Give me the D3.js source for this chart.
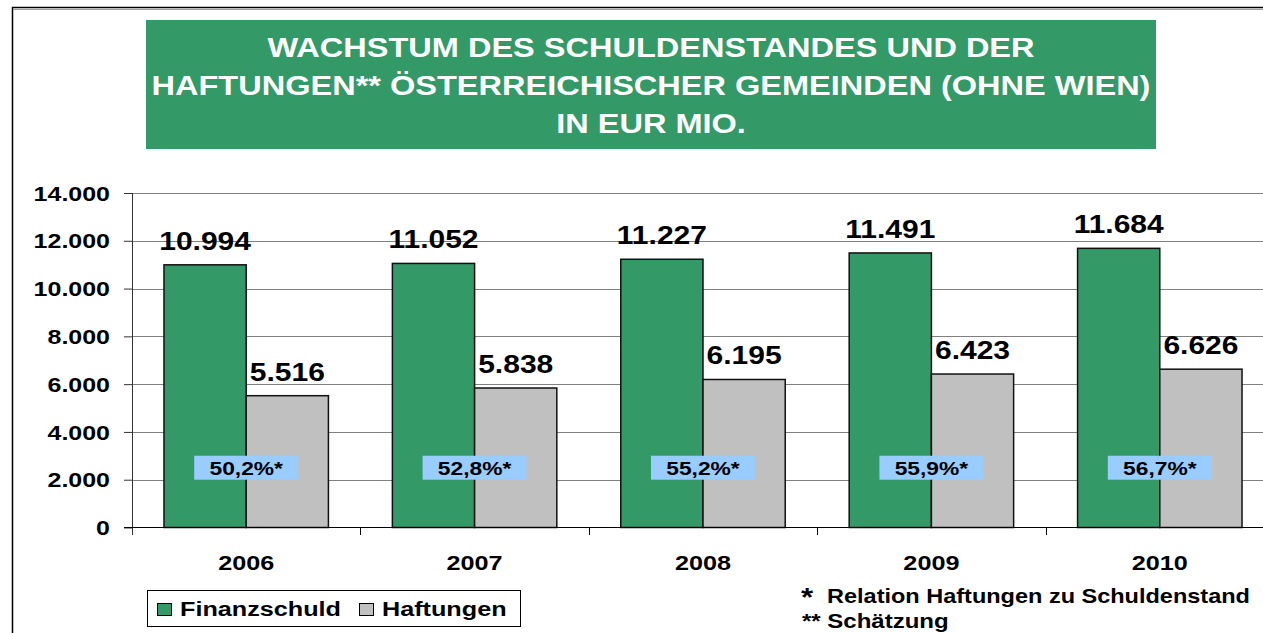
<!DOCTYPE html>
<html lang="de">
<head>
<meta charset="UTF-8">
<title>Wachstum des Schuldenstandes</title>
<script src="https://d3js.org/d3.v7.min.js"></script>
<style>
  html, body { margin: 0; padding: 0; background: #fff; overflow: hidden; }
  svg { display: block; font-family: "Liberation Sans", Arial, sans-serif; font-weight: bold; }
</style>
</head>
<body>
<svg id="chart" width="1263" height="633"></svg>
<script>
// data
const years = ["2006", "2007", "2008", "2009", "2010"];
const seriesNames = ["Finanzschuld", "Haftungen"];
const finanzschuld = [10994, 11052, 11227, 11491, 11684];
const haftungen = [5516, 5838, 6195, 6423, 6626];
const relation = ["50,2%*", "52,8%*", "55,2%*", "55,9%*", "56,7%*"];
const yTicks = [0, 2000, 4000, 6000, 8000, 10000, 12000, 14000];
const titleLines = [
  "WACHSTUM DES SCHULDENSTANDES UND DER",
  "HAFTUNGEN** ÖSTERREICHISCHER GEMEINDEN (OHNE WIEN)",
  "IN EUR MIO."
];

const colors = { "Finanzschuld": "#339966", "Haftungen": "#c0c0c0" };
const SX = 1.2; // the original text is horizontally stretched
const fmt = v => d3.format(",")(v).replace(/,/g, ".");

const svg = d3.select("#chart");

// place text stretched horizontally
function put(sel, x, y, sx = SX) {
  return sel.attr("transform", `translate(${x},${y}) scale(${sx},1)`);
}

// outer frame
svg.append("rect").attr("x", 12.5).attr("y", 7.5).attr("width", 1300).attr("height", 700)
  .attr("fill", "none").attr("stroke", "#000").attr("stroke-width", 1.5);
svg.append("line").attr("x1", 13).attr("x2", 1263).attr("y1", 9.5).attr("y2", 9.5)
  .attr("stroke", "#a0a0a0").attr("stroke-width", 1);

// title box
svg.append("rect").attr("x", 146).attr("y", 20).attr("width", 1010).attr("height", 129)
  .attr("fill", "#339966");
titleLines.forEach((t, i) => {
  put(svg.append("text"), 651, 57 + i * 38, 1.205)
    .attr("text-anchor", "middle").attr("fill", "#fff").attr("font-size", 27).text(t);
});

// scales
const y = d3.scaleLinear().domain([0, 14000]).range([527.5, 193]);
const x = d3.scaleBand().domain(years).range([132, 1274]).padding(0);
const bw = x.bandwidth();
const xs = d3.scaleBand().domain(seriesNames).range([bw * 0.14, bw * 0.86]).padding(0);

// gridlines
svg.append("g").selectAll("line").data(yTicks.slice(1)).join("line")
  .attr("x1", 132).attr("x2", 1263)
  .attr("y1", d => Math.round(y(d)) + 0.5).attr("y2", d => Math.round(y(d)) + 0.5)
  .attr("stroke", "#808080").attr("stroke-width", 1);

// bars
const groups = svg.append("g").selectAll("g").data(years).join("g")
  .attr("transform", d => `translate(${x(d)},0)`);

groups.each(function (yr, i) {
  const g = d3.select(this);
  const vals = [
    { s: "Finanzschuld", v: finanzschuld[i] },
    { s: "Haftungen", v: haftungen[i] }
  ];
  g.selectAll("rect").data(vals).join("rect")
    .attr("x", d => xs(d.s))
    .attr("y", d => y(d.v))
    .attr("width", xs.bandwidth())
    .attr("height", d => y(0) - y(d.v))
    .attr("fill", d => colors[d.s])
    .attr("stroke", "#111").attr("stroke-width", 1.5);
  vals.forEach(d => {
    put(g.append("text"), xs(d.s) + xs.bandwidth() / 2, y(d.v) - 15)
      .attr("text-anchor", "middle").attr("font-size", 25).attr("fill", "#000")
      .text(fmt(d.v));
  });
  // relation box
  g.append("rect").attr("x", bw / 2 - 52).attr("y", y(2000) - 24)
    .attr("width", 104).attr("height", 24).attr("fill", "#99ccff");
  put(g.append("text"), bw / 2, y(2000) - 5)
    .attr("text-anchor", "middle").attr("font-size", 19).attr("fill", "#000")
    .text(relation[i]);
});

// y axis
const yAxis = svg.append("g").attr("transform", "translate(132,0)")
  .call(d3.axisLeft(y).tickValues(yTicks).tickSize(8).tickPadding(14).tickFormat(fmt));
yAxis.select(".domain").remove();
yAxis.selectAll(".tick line").attr("stroke", "#333");
yAxis.selectAll(".tick text")
  .attr("font-size", 20).attr("font-family", null).attr("fill", "#000")
  .attr("dy", "0.36em")
  .attr("x", -22 / 1.25).attr("transform", "scale(1.25,1)");
svg.append("line").attr("x1", 132.5).attr("x2", 132.5).attr("y1", 193).attr("y2", 535)
  .attr("stroke", "#333").attr("stroke-width", 1);

// x axis
svg.append("line").attr("x1", 124).attr("x2", 1263).attr("y1", 527.5).attr("y2", 527.5)
  .attr("stroke", "#000").attr("stroke-width", 1.2);
svg.append("g").selectAll("line").data(years.slice(1)).join("line")
  .attr("x1", d => Math.round(x(d)) + 0.5).attr("x2", d => Math.round(x(d)) + 0.5)
  .attr("y1", 527.5).attr("y2", 535).attr("stroke", "#000");
svg.append("g").selectAll("text").data(years).join("text")
  .each(function (d) { put(d3.select(this), x(d) + bw / 2, 570); })
  .attr("text-anchor", "middle").attr("font-size", 21).attr("fill", "#000").text(d => d);

// legend
const lg = svg.append("g");
lg.append("rect").attr("x", 147.5).attr("y", 590.5).attr("width", 373).attr("height", 36)
  .attr("fill", "#fff").attr("stroke", "#000").attr("stroke-width", 1);
const legendX = { "Finanzschuld": 157, "Haftungen": 359 };
seriesNames.forEach(s => {
  lg.append("rect").attr("x", legendX[s] + 0.5).attr("y", 603.5).attr("width", 14).attr("height", 12)
    .attr("fill", colors[s]).attr("stroke", "#000").attr("stroke-width", 1);
  put(lg.append("text"), legendX[s] + 23, 616).attr("font-size", 21).attr("fill", "#000").text(s);
});

// footnotes
put(svg.append("text"), 801, 606).attr("font-size", 26).attr("fill", "#000").text("*");
put(svg.append("text"), 827, 603).attr("font-size", 19.6).attr("fill", "#000")
  .text("Relation Haftungen zu Schuldenstand");
put(svg.append("text"), 802, 628).attr("font-size", 20).attr("fill", "#000").text("** Schätzung");
</script>
</body>
</html>
